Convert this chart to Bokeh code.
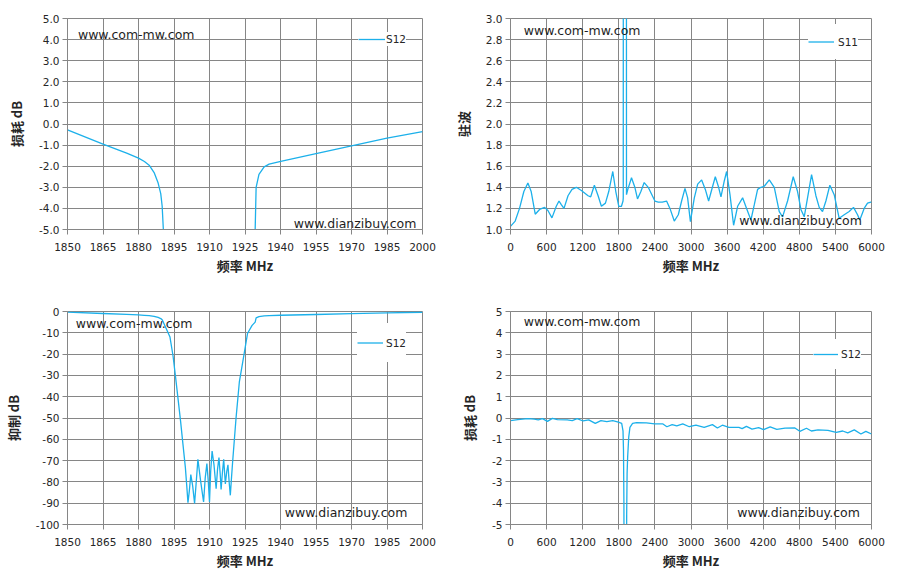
from bokeh.plotting import figure
from bokeh.models import Range1d, FixedTicker, Legend, LegendItem, Label, NumeralTickFormatter
from bokeh.layouts import gridplot
from bokeh.embed import file_html
from bokeh.resources import INLINE

# ---------------- data ----------------
# S12 narrow band (1850-2000 MHz), used in panels 1 and 3
band_freq = [1850, 1865, 1875, 1880, 1882.5, 1884.5, 1886.6, 1888.3, 1889.4, 1890.0, 1890.5,
             1891.3, 1892.5, 1893.3, 1894.6, 1895.6, 1896.7, 1897.8, 1898.8, 1899.8, 1900.4,
             1900.9, 1901.5, 1902.1, 1902.9, 1903.7, 1904.4, 1905.1, 1906.3, 1907.5, 1908.2,
             1908.9, 1909.5, 1910.0, 1910.5, 1911.1, 1911.9, 1912.8, 1913.4, 1914.0, 1914.5,
             1914.9, 1915.5, 1916.0, 1916.4, 1916.7, 1917.3, 1917.8, 1918.3, 1918.8, 1919.3,
             1919.8, 1921.2, 1922.6, 1924.0, 1926.1, 1928.0, 1929.3, 1929.7, 1930.9, 1933.1,
             1935.2, 1940.1, 1955, 1970, 1985, 2000]
band_s12 = [-0.28, -0.95, -1.38, -1.62, -1.78, -1.95, -2.3, -2.8, -3.3, -3.9, -5.0,
            -7.0, -10.0, -12.0, -20.9, -30.2, -40.9, -51.7, -62.5, -73.2, -82.0,
            -89.8, -84.0, -76.6, -82.0, -90.1, -80.0, -69.4, -80.0, -89.4, -78.0,
            -71.4, -80.0, -89.4, -75.0, -65.5, -72.0, -83.2, -74.0, -68.6, -76.0,
            -83.5, -75.0, -69.4, -76.0, -81.0, -75.0, -72.0, -80.0, -86.3, -78.0,
            -70.2, -50.2, -33.2, -24.0, -10.2, -6.5, -5.0, -3.0, -2.39, -2.03,
            -1.9, -1.77, -1.40, -1.04, -0.67, -0.36]

# S11 VSWR wide band (0-6000 MHz)
wide_freq_s11 = [0, 78, 150, 222, 289, 344, 411, 483, 567, 622, 689, 761, 806, 844, 889, 956,
                 1022, 1094, 1178, 1289, 1333, 1394, 1456, 1511, 1578, 1633, 1700, 1750, 1800,
                 1844, 1870, 1874, 1878, 1922, 1928, 1950, 2011, 2067, 2111, 2167, 2222, 2289,
                 2400, 2456, 2522, 2594, 2650, 2722, 2789, 2844, 2900, 2944, 2990, 3055, 3111,
                 3177, 3238, 3293, 3360, 3404, 3459, 3498, 3553, 3592, 3648, 3708, 3775, 3858,
                 3930, 3996, 4052, 4107, 4162, 4218, 4301, 4384, 4467, 4522, 4605, 4699, 4771,
                 4827, 4882, 4937, 5004, 5076, 5131, 5186, 5242, 5308, 5380, 5463, 5546, 5629,
                 5701, 5768, 5806, 5878, 5934, 5989, 6000]
wide_s11 = [1.03, 1.08, 1.20, 1.36, 1.44, 1.36, 1.145, 1.19, 1.21, 1.18, 1.11, 1.22, 1.27, 1.235,
            1.20, 1.32, 1.38, 1.40, 1.37, 1.32, 1.31, 1.42, 1.32, 1.22, 1.25, 1.36, 1.55, 1.36,
            1.22, 1.22, 1.27, 1.30, 12.0, 12.0, 1.33, 1.38, 1.49, 1.40, 1.29, 1.36, 1.445, 1.40,
            1.27, 1.26, 1.26, 1.27, 1.20, 1.08, 1.14, 1.27, 1.39, 1.30, 1.075, 1.30, 1.43,
            1.47, 1.38, 1.27, 1.41, 1.50, 1.40, 1.31, 1.46, 1.55, 1.33, 1.04, 1.22, 1.30,
            1.19, 1.09, 1.235, 1.38, 1.40, 1.41, 1.47, 1.40, 1.17, 1.12, 1.27, 1.50, 1.36,
            1.19, 1.12, 1.30, 1.52, 1.32, 1.21, 1.17, 1.27, 1.42, 1.33, 1.106, 1.14, 1.17,
            1.21, 1.14, 1.09, 1.20, 1.25, 1.26, 1.26]

# S12 wide band (0-6000 MHz)
wide_freq_s12 = [0, 121, 285, 395, 461, 532, 614, 696, 779, 943, 1026, 1108, 1206, 1300, 1409,
                 1503, 1601, 1700, 1793, 1848, 1870, 1878, 1885, 1890, 1925, 1931, 1938, 1947,
                 1965, 1985, 2029, 2095, 2259, 2397, 2534, 2599, 2687, 2764, 2863, 2972, 3082,
                 3219, 3356, 3439, 3521, 3630, 3795, 3850, 3921, 4014, 4124, 4206, 4316, 4426,
                 4563, 4727, 4809, 4919, 5001, 5111, 5276, 5413, 5522, 5605, 5714, 5824, 5906, 6000]
wide_s12 = [-0.12, -0.08, -0.03, -0.05, -0.09, -0.03, -0.16, -0.02, -0.08, -0.09, -0.12, -0.03,
            -0.14, -0.09, -0.25, -0.125, -0.17, -0.125, -0.19, -0.25, -0.6, -1.5, -4.0, -10.0,
            -10.0, -4.5, -2.6, -1.84, -0.9, -0.44, -0.25, -0.22, -0.23, -0.28, -0.28, -0.41,
            -0.31, -0.375, -0.28, -0.41, -0.33, -0.44, -0.31, -0.47, -0.34, -0.44, -0.44, -0.5,
            -0.39, -0.52, -0.45, -0.55, -0.42, -0.53, -0.48, -0.47, -0.625, -0.48, -0.61, -0.56,
            -0.58, -0.67, -0.61, -0.70, -0.56, -0.75, -0.625, -0.75]

# ticks and tick labels
band_xticks = [1850, 1865, 1880, 1895, 1910, 1925, 1940, 1955, 1970, 1985, 2000]
band_xlabels = [str(t) for t in band_xticks]
wide_xticks = [0, 600, 1200, 1800, 2400, 3000, 3600, 4200, 4800, 5400, 6000]
wide_xlabels = [str(t) for t in wide_xticks]
p1_yticks = [-5, -4, -3, -2, -1, 0, 1, 2, 3, 4, 5]
p1_ylabels = ["-5.0", "-4.0", "-3.0", "-2.0", "-1.0", "0.0", "1.0", "2.0", "3.0", "4.0", "5.0"]
p2_yticks = [1.0, 1.2, 1.4, 1.6, 1.8, 2.0, 2.2, 2.4, 2.6, 2.8, 3.0]
p2_ylabels = ["1.0", "1.2", "1.4", "1.6", "1.8", "2.0", "2.2", "2.4", "2.6", "2.8", "3.0"]
p3_yticks = [-100, -90, -80, -70, -60, -50, -40, -30, -20, -10, 0]
p3_ylabels = [str(t) for t in p3_yticks]
p4_yticks = [-5, -4, -3, -2, -1, 0, 1, 2, 3, 4, 5]
p4_ylabels = [str(t) for t in p4_yticks]

xlabel_text = "频率 MHz"
watermark_1 = "www.com-mw.com"
watermark_2 = "www.dianzibuy.com"

# ---------------- style ----------------
FONT = "DejaVu Sans"
CJK = "Noto Sans CJK SC"
LINE_COLOR = "#1cb0ea"
GRID = "#868686"
TXT = "#262626"


def make_fig(width, height, borders, xr, yr, xticks, xlabels, yticks, ylabels, ylabel, yfmt):
    left, right, top, bottom = borders
    p = figure(width=width, height=height, output_backend="svg", toolbar_location=None,
               title=None, x_range=Range1d(*xr), y_range=Range1d(*yr),
               min_border_left=left, min_border_right=right,
               min_border_top=top, min_border_bottom=bottom)
    p.outline_line_color = GRID
    p.background_fill_color = "white"
    p.border_fill_color = "white"
    for ax, ticks, labels in ((p.xaxis, xticks, xlabels), (p.yaxis, yticks, ylabels)):
        ax.ticker = FixedTicker(ticks=ticks)
        ax.major_label_overrides = dict(zip(ticks, labels))
        ax.axis_line_color = GRID
        ax.major_tick_line_color = GRID
        ax.major_tick_out = 5
        ax.major_tick_in = 0
        ax.minor_tick_line_color = None
        ax.major_label_text_font = FONT
        ax.major_label_text_font_size = "10.5px"
        ax.major_label_text_color = TXT
        ax.axis_label_text_font = CJK
        ax.axis_label_text_font_style = "bold"
        ax.axis_label_text_font_size = "13px"
        ax.axis_label_text_color = TXT
    p.yaxis.formatter = NumeralTickFormatter(format=yfmt)
    p.xaxis.axis_label = xlabel_text
    p.yaxis.axis_label = ylabel
    p.xaxis.major_label_standoff = 8
    p.xaxis.axis_label_standoff = 2
    p.yaxis.major_label_standoff = 3
    p.yaxis.axis_label_standoff = 10
    p.xgrid.ticker = FixedTicker(ticks=xticks)
    p.ygrid.ticker = FixedTicker(ticks=yticks)
    for g in (p.xgrid, p.ygrid):
        g.grid_line_color = GRID
        g.grid_line_width = 1
    return p


def add_series(p, x, y, name, loc, padding, gw, gh, standoff):
    r = p.line(x, y, line_color=LINE_COLOR, line_width=1.3)
    leg = Legend(items=[LegendItem(label=name, renderers=[r])], location=loc,
                 background_fill_color="white", background_fill_alpha=1.0,
                 border_line_color=None, padding=padding, margin=0, spacing=0,
                 glyph_width=gw, glyph_height=gh, label_standoff=standoff,
                 label_height=gh, label_width=20,
                 label_text_font=FONT, label_text_font_size="10.5px",
                 label_text_color=TXT)
    p.add_layout(leg)


def add_marks(p, pos1, pos2):
    for (x, y), t in ((pos1, watermark_1), (pos2, watermark_2)):
        p.add_layout(Label(x=x, y=y, text=t, text_font=FONT, text_font_size="12.5px",
                           text_color="#1e1e1e", text_baseline="middle", text_align="left"))


p1 = make_fig(450, 290, (67, 28, 15, 61), (1850, 2000), (-5, 5),
              band_xticks, band_xlabels, p1_yticks, p1_ylabels, "损耗 dB", "0.0")
add_series(p1, band_freq, band_s12, "S12", (291, 183), 7, 27, 14, 1)
add_marks(p1, (1854.4, 4.26), (1945.6, -4.71))

p2 = make_fig(446, 290, (59, 25, 18, 58), (0, 6000), (1.0, 3.0),
              wide_xticks, wide_xlabels, p2_yticks, p2_ylabels, "驻波", "0.0")
add_series(p2, wide_freq_s11, wide_s11, "S11", (298, 170), 2, 26, 35, 4)
add_marks(p2, (222, 2.884), (3802, 1.088))

p3 = make_fig(450, 289, (67, 28, 18, 55), (1850, 2000), (-100, 0),
              band_xticks, band_xlabels, p3_yticks, p3_ylabels, "抑制 dB", "0")
add_series(p3, band_freq, band_s12, "S12", (290, 162), 5, 26, 39, 3)
add_marks(p3, (1853.5, -5.6), (1941.8, -94.5))

p4 = make_fig(446, 289, (59, 22, 21, 55), (0, 6000), (-5, 5),
              wide_xticks, wide_xlabels, p4_yticks, p4_ylabels, "损耗 dB", "0")
add_series(p4, wide_freq_s12, wide_s12, "S12", (303, 155), 6, 25, 30, 3)
add_marks(p4, (220, 4.53), (3768, -4.44))

grid = gridplot([[p1, p2], [p3, p4]], toolbar_location=None)

open("out.html", "w").write(file_html(grid, INLINE))
